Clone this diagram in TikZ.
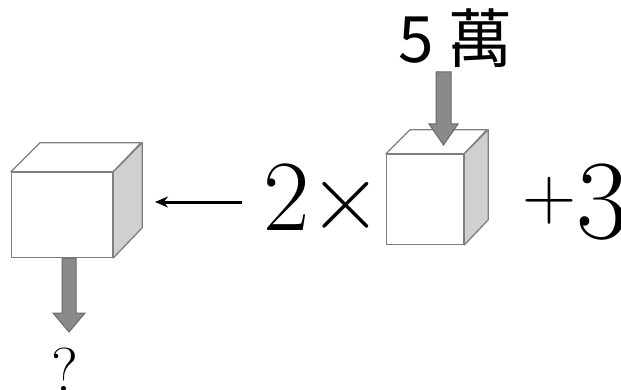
\documentclass[tikz,border=0pt]{standalone}
\usepackage{fontspec}
\newfontfamily\cjk{Noto Sans CJK TC}
\usetikzlibrary{arrows.meta,calc}
\definecolor{edgegray}{HTML}{7F7F7F}
\definecolor{sidegray}{HTML}{D0D0D0}
\definecolor{arrowgray}{HTML}{8A8A8A}
\definecolor{arrowedge}{HTML}{6A6A6A}
\tikzset{
  cubeface/.style={
    draw=edgegray,
    line width=1.3pt,
    fill=white,
    inner sep=0pt,
    anchor=south west
  },
  cubeedge/.style={
    draw=edgegray,
    line width=1.3pt,
    line join=round
  },
  bigarrow/.style={
    draw=arrowedge,
    fill=arrowgray,
    line width=1pt,
    line join=miter
  },
  bigtext/.style={
    inner sep=0pt,
    anchor=base west
  }
}
\begin{document}
\begin{tikzpicture}[x=1pt,y=1pt]
  \useasboundingbox (0,0) rectangle (621,389);
  % the two boxes
  \foreach \name/\x/\y/\w/\h/\d in {cubeL/11/131/101/85/29, cubeR/386/144/77/90/24}{
    \node[cubeface, minimum width=\w pt, minimum height=\h pt] (\name) at (\x,\y) {};
    \draw[cubeedge, fill=white] (\name.north west) -- ++(\d,\d) -- ++(\w,0) -- (\name.north east) -- cycle;
    \draw[cubeedge, fill=sidegray] (\name.north east) -- ++(\d,\d) -- ++(0,-\h) -- (\name.south east) -- cycle;
  }
  % texts
  \node[bigtext] (ten) at (398,326) {\fontsize{64}{68}\selectfont\cjk 5 萬};
  \node[bigtext] (twice) at (263,159) {\fontsize{101}{105}\selectfont 2×};
  \node[bigtext] (plus) at (522,151) {\raisebox{19pt}{\fontsize{75}{80}\selectfont +}\fontsize{113}{118}\selectfont 3};
  \node[bigtext, anchor=base] (ask) at (65,-2) {\fontsize{62}{66}\selectfont ?};
  % grey arrows
  \draw[bigarrow] (436,317) -- (436,265) -- (429,265) -- (443.5,244) -- (458,265) -- (451,265) -- (451,317) -- cycle;
  \draw[bigarrow] (62,131) -- (62,76) -- (53,76) -- (69,57) -- (85,76) -- (76,76) -- (76,131) -- cycle;
  % arrow back to the first box
  \coordinate (tail) at (242,187);
  \coordinate (head) at (155,187);
  \draw[line width=3pt, -{Stealth[length=13pt,width=11pt]}] (tail) -- (head);
\end{tikzpicture}
\end{document}
